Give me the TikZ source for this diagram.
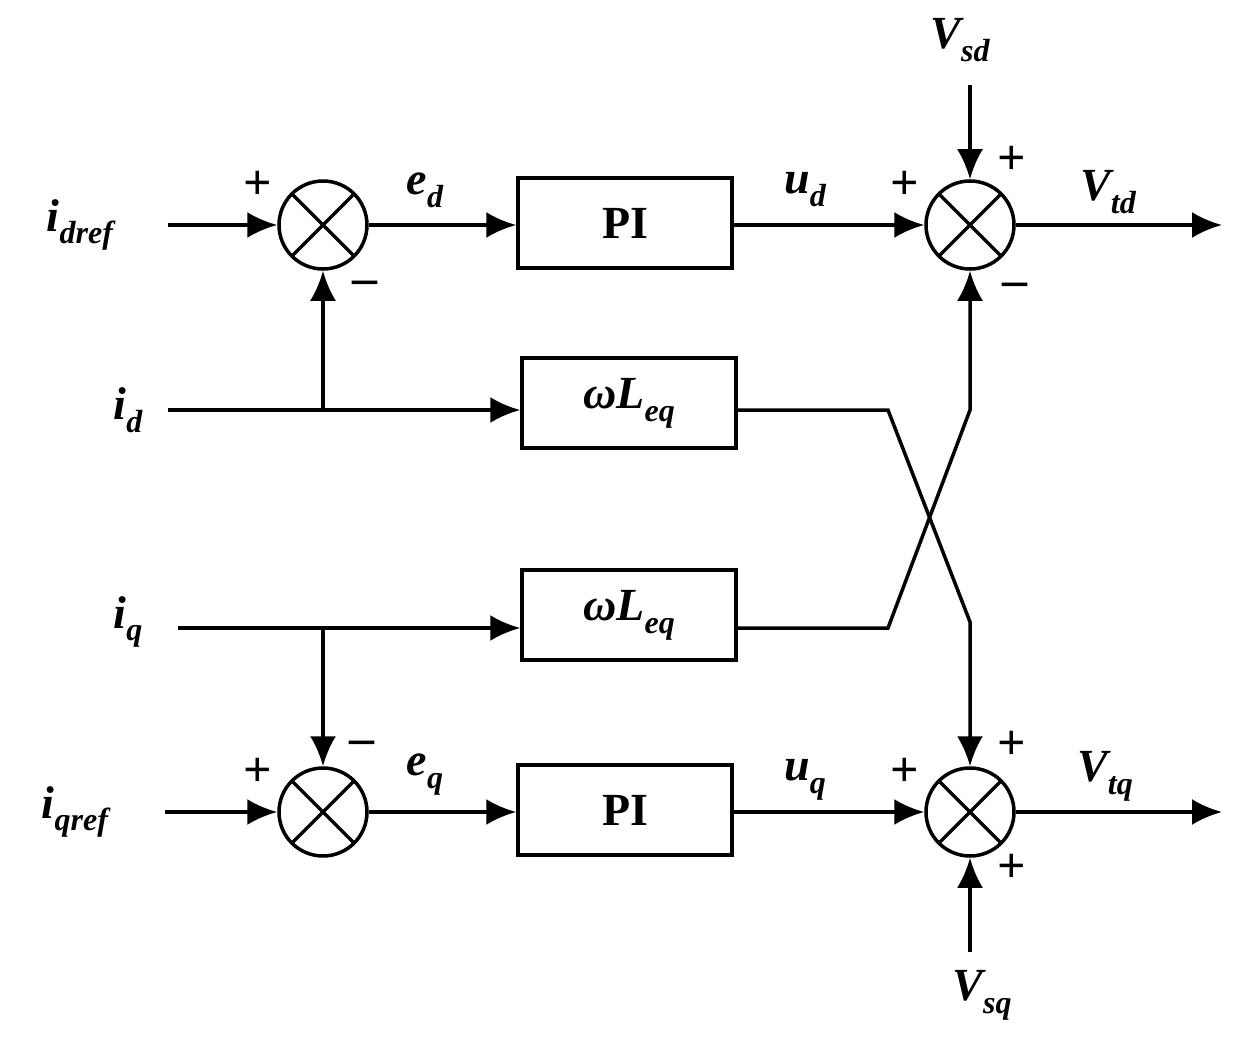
\documentclass[tikz,border=0pt]{standalone}
\usepackage{fontspec}
\setmainfont{Liberation Serif}
\usetikzlibrary{arrows.meta}
\newcommand{\mysub}[1]{\raisebox{-0.28em}{\fontsize{32}{32}\selectfont #1}}
\begin{document}
\begin{tikzpicture}[x=1pt,y=-1pt,
  line width=3.5pt,
  arr/.style={-{Latex[length=30pt,width=26pt]}},
  sum/.style={circle,draw,minimum size=88pt,inner sep=0pt,
    path picture={\draw[line width=3.5pt] (path picture bounding box.south west)--(path picture bounding box.north east)
      (path picture bounding box.north west)--(path picture bounding box.south east);}},
  blk/.style={draw,rectangle,minimum width=214pt,minimum height=90pt,inner sep=0pt,font=\fontsize{46}{50}\selectfont\bfseries},
  lbl/.style={font=\fontsize{46}{50}\selectfont\bfseries\itshape,inner sep=0pt},
  sg/.style={font=\fontsize{50}{50}\selectfont\bfseries,inner sep=0pt}]
\useasboundingbox (0,0) rectangle (1248,1046);
\node[sum] (s1) at (323,225) {};
\node[sum] (s2) at (970,225) {};
\node[sum] (s3) at (323,812) {};
\node[sum] (s4) at (970,812) {};
\node[blk] (pi1) at (625,223) {PI};
\node[blk] (pi2) at (625,810) {PI};
\node[blk,font=\fontsize{46}{50}\selectfont\bfseries\itshape] (w1) at (629,403) {ωL\mysub{eq}};
\node[blk,font=\fontsize{46}{50}\selectfont\bfseries\itshape] (w2) at (629,615) {ωL\mysub{eq}};
% labels
\node[lbl] (idref) at (80,225) {i\mysub{dref}};
\node[lbl] (id) at (128,410) {i\mysub{d}};
\node[lbl] (iq) at (128,622) {i\mysub{q}};
\node[lbl] (iqref) at (75,812) {i\mysub{qref}};
\node[lbl] at (425,190) {e\mysub{d}};
\node[lbl] at (425,775) {e\mysub{q}};
\node[lbl] at (805,190) {u\mysub{d}};
\node[lbl] at (805,780) {u\mysub{q}};
\node[lbl] at (1108,192) {V\mysub{td}};
\node[lbl] at (1105,776) {V\mysub{tq}};
\node[lbl] at (960,40) {V\mysub{sd}};
\node[lbl] at (982,995) {V\mysub{sq}};
% signs
\node[sg] at (258,185) {+};
\node[sg] at (365,288) {\textendash};
\node[sg] at (905,185) {+};
\node[sg] at (1012,160) {+};
\node[sg] at (1015,290) {\textendash};
\node[sg] at (258,772) {+};
\node[sg] at (362,748) {\textendash};
\node[sg] at (905,772) {+};
\node[sg] at (1012,745) {+};
\node[sg] at (1012,868) {+};
% coordinates
\coordinate (a1) at (168,225);
\coordinate (a2) at (168,410);
\coordinate (a3) at (178,628);
\coordinate (a4) at (165,812);
\coordinate (bd) at (323,410);
\coordinate (bq) at (323,628);
\coordinate (o1) at (1222,225);
\coordinate (o2) at (1222,812);
\coordinate (vsd) at (970,85);
\coordinate (vsq) at (970,952);
% connections
\draw[arr] (a1) -- (s1.west);
\draw[arr] (a2) -- (w1.west |- a2);
\draw[arr] (bd) -- (s1.south);
\draw[arr] (a3) -- (w2.west |- a3);
\draw[arr] (bq) -- (s3.north);
\draw[arr] (a4) -- (s3.west);
\draw[arr] (s1.east) -- (pi1.west |- s1);
\draw[arr] (pi1.east |- s2) -- (s2.west);
\draw[arr] (s2.east) -- (o1);
\draw[arr] (vsd) -- (s2.north);
\draw[arr] (s3.east) -- (pi2.west |- s3);
\draw[arr] (pi2.east |- s4) -- (s4.west);
\draw[arr] (s4.east) -- (o2);
\draw[arr] (vsq) -- (s4.south);
\draw[arr] (w1.east |- 0,410) -- (888,410) -- (970,622) -- (s4.north);
\draw[arr] (w2.east |- 0,628) -- (888,628) -- (970,410) -- (s2.south);
\end{tikzpicture}
\end{document}
